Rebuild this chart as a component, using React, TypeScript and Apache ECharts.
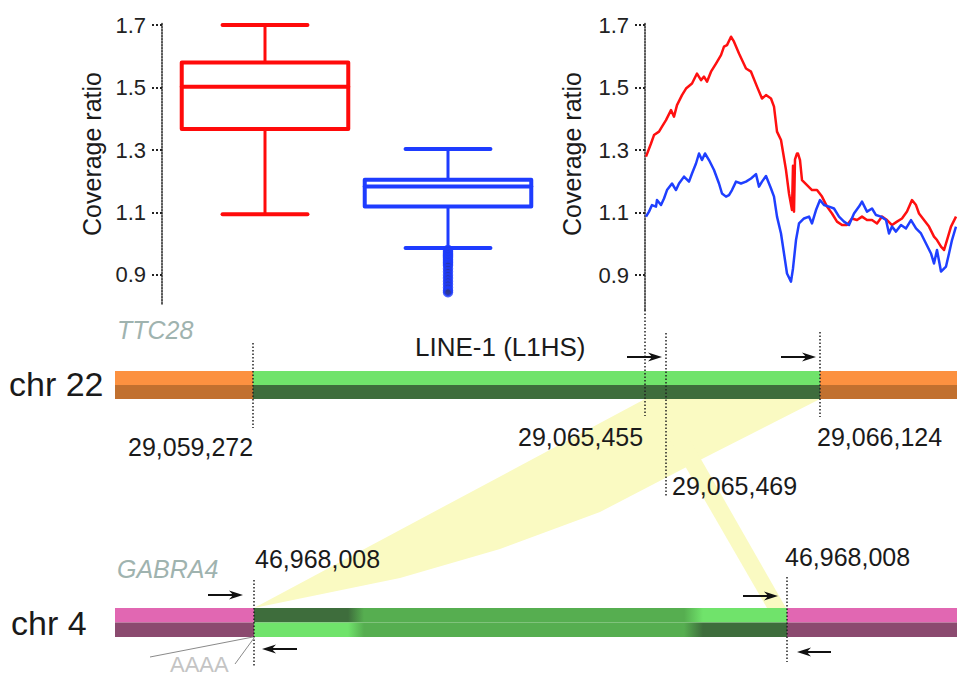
import React, { useEffect, useRef } from 'react';
import * as echarts from 'echarts';

// ---------- data ----------
const boxCategories = ['red sample', 'blue sample'];
// [lower whisker, Q1, median, Q3, upper whisker]
const boxStats = [
  [1.094, 1.367, 1.503, 1.58, 1.70],
  [0.986, 1.119, 1.183, 1.205, 1.303],
];
const boxColors = ['#ff0a0a', '#1e3cff'];
const blueOutliers = [0.98, 0.975, 0.97, 0.965, 0.96, 0.955, 0.95, 0.945, 0.94, 0.935, 0.93, 0.92, 0.91, 0.9, 0.89, 0.88, 0.87, 0.86, 0.85, 0.845];
const tickValues = [0.9, 1.1, 1.3, 1.5, 1.7];
const tickLabels = ['0.9', '1.1', '1.3', '1.5', '1.7'];

const redPos = [1, 6, 9, 14, 17, 21, 26, 29, 32, 37, 41, 47, 52, 56, 59, 62, 66, 71, 76, 79, 82, 86, 89, 94, 101, 106, 112, 117, 121, 126, 129, 132, 136, 141, 144, 147, 148, 149, 150, 152, 153, 155, 157, 162, 167, 172, 177, 182, 187, 192, 197, 202, 207, 212, 217, 222, 227, 232, 237, 242, 247, 252, 257, 262, 267, 271, 274, 279, 284, 289, 292, 296, 299, 302, 306, 311];
const redVal = [1.279, 1.321, 1.348, 1.359, 1.375, 1.396, 1.428, 1.407, 1.444, 1.476, 1.497, 1.513, 1.545, 1.524, 1.535, 1.519, 1.551, 1.577, 1.604, 1.631, 1.636, 1.663, 1.647, 1.609, 1.561, 1.551, 1.503, 1.465, 1.476, 1.465, 1.439, 1.359, 1.332, 1.236, 1.161, 1.108, 1.25, 1.103, 1.27, 1.289, 1.289, 1.268, 1.204, 1.188, 1.172, 1.172, 1.151, 1.119, 1.097, 1.071, 1.06, 1.06, 1.081, 1.076, 1.087, 1.076, 1.076, 1.065, 1.087, 1.076, 1.06, 1.071, 1.081, 1.103, 1.14, 1.124, 1.097, 1.076, 1.055, 1.023, 1.012, 0.991, 0.98, 1.012, 1.055, 1.087];

const bluePos = [1, 4, 7, 11, 12, 16, 19, 22, 27, 31, 34, 39, 44, 47, 51, 54, 57, 60, 64, 69, 74, 77, 81, 84, 87, 91, 96, 101, 106, 111, 114, 117, 121, 126, 129, 132, 136, 139, 142, 146, 148, 151, 154, 159, 164, 167, 171, 175, 179, 184, 189, 194, 199, 204, 209, 214, 217, 222, 227, 231, 236, 241, 244, 247, 251, 256, 261, 266, 271, 276, 281, 286, 289, 292, 296, 301, 304, 307, 311];
const blueVal = [1.087, 1.103, 1.124, 1.119, 1.14, 1.124, 1.145, 1.172, 1.193, 1.172, 1.193, 1.215, 1.199, 1.225, 1.257, 1.289, 1.268, 1.289, 1.268, 1.236, 1.193, 1.161, 1.151, 1.156, 1.172, 1.199, 1.193, 1.199, 1.209, 1.223, 1.183, 1.199, 1.217, 1.177, 1.151, 1.087, 1.033, 0.969, 0.905, 0.879, 0.921, 1.012, 1.065, 1.081, 1.087, 1.065, 1.108, 1.14, 1.124, 1.119, 1.113, 1.087, 1.071, 1.06, 1.097, 1.119, 1.135, 1.103, 1.113, 1.092, 1.087, 1.076, 1.033, 1.055, 1.039, 1.06, 1.049, 1.076, 1.049, 1.033, 1.001, 0.969, 0.937, 0.98, 0.911, 0.927, 0.969, 1.012, 1.055];

const chromNames = ['chr 22', 'chr 4'];
const geneNames = ['TTC28', 'GABRA4'];
const elementName = 'LINE-1 (L1HS)';
const chr22Coords = ['29,059,272', '29,065,455', '29,065,469', '29,066,124'];
const chr4Coords = ['46,968,008', '46,968,008'];
const polyA = 'AAAA';

const FONT = '"Liberation Sans", Arial, Helvetica, sans-serif';

function dotted(x: number, y1: number, y2: number) {
  return { type: 'line', shape: { x1: x, y1, x2: x, y2 }, style: { stroke: '#222', lineWidth: 1.5, lineDash: [1.5, 2] } };
}
function arrow(x1: number, x2: number, y: number) {
  const d = Math.sign(x2 - x1);
  const hl = 14, hh = 4.5;
  return [
    { type: 'line', shape: { x1, y1: y, x2: x2 - d * hl * 0.7, y2: y }, style: { stroke: '#111', lineWidth: 2 } },
    { type: 'polygon', shape: { points: [[x2, y], [x2 - d * hl, y - hh], [x2 - d * hl * 0.7, y], [x2 - d * hl, y + hh]] }, style: { fill: '#111' } },
  ];
}
function label(text: string, x: number, y: number, size: number, extra: any = {}) {
  return { type: 'text', x, y, style: { text, fill: '#1a1a1a', fontSize: size, fontFamily: FONT, align: 'left', verticalAlign: 'middle', ...extra } };
}

export default function App() {
  const ref = useRef<HTMLDivElement>(null);
  useEffect(() => {
    if (!ref.current) return;
    const chart = echarts.init(ref.current, undefined, { renderer: 'svg' });

    const yAxisBase = (gridIndex: number, min: number, max: number, offset: number) => ({
      gridIndex, type: 'value', min, max, offset,
      axisLine: { show: true, lineStyle: { color: '#222', type: 'dotted', width: 1.5 } },
      axisTick: { show: true, length: 12, customValues: tickValues, lineStyle: { color: '#222', type: 'dotted', width: 2 } },
      axisLabel: {
        customValues: tickValues, margin: 16, fontSize: 22, color: '#222', fontFamily: FONT,
        formatter: (v: number) => tickLabels[tickValues.findIndex((t) => Math.abs(t - v) < 1e-6)] ?? '',
      },
      splitLine: { show: false },
    });

    const lightGreen = '#70e36b', darkGreen = '#3e6d3c', midGreen = '#56ae50';
    const chr4Green = 787 - 254;
    const gs = (px: number) => (px - 254) / chr4Green;

    const graphics: any[] = [
      // axis names
      { type: 'text', x: 92, y: 154, rotation: Math.PI / 2, style: { text: 'Coverage ratio', fill: '#1a1a1a', fontSize: 25, fontFamily: FONT, align: 'center', verticalAlign: 'middle' } },
      { type: 'text', x: 572, y: 154, rotation: Math.PI / 2, style: { text: 'Coverage ratio', fill: '#1a1a1a', fontSize: 25, fontFamily: FONT, align: 'center', verticalAlign: 'middle' } },
      // yellow bands
      { type: 'polygon', shape: { points: [[254, 608], [645, 399], [820, 399], [700, 460], [600, 512], [500, 549], [400, 578]] }, style: { fill: '#fafac2' } },
      { type: 'polygon', shape: { points: [[670, 440], [690, 440], [786, 608], [767, 608]] }, style: { fill: '#fafac2' } },
      // chr22 bar
      { type: 'rect', shape: { x: 115, y: 371, width: 138, height: 14 }, style: { fill: '#fc9140' } },
      { type: 'rect', shape: { x: 115, y: 385, width: 138, height: 14 }, style: { fill: '#c1702f' } },
      { type: 'rect', shape: { x: 253, y: 371, width: 567, height: 14 }, style: { fill: lightGreen } },
      { type: 'rect', shape: { x: 253, y: 385, width: 567, height: 14 }, style: { fill: darkGreen } },
      { type: 'rect', shape: { x: 820, y: 371, width: 137, height: 14 }, style: { fill: '#fc9140' } },
      { type: 'rect', shape: { x: 820, y: 385, width: 137, height: 14 }, style: { fill: '#c1702f' } },
      // chr4 bar
      { type: 'rect', shape: { x: 115, y: 608, width: 139, height: 14.5 }, style: { fill: '#e167b2' } },
      { type: 'rect', shape: { x: 115, y: 622.5, width: 139, height: 14.5 }, style: { fill: '#8b4a6f' } },
      {
        type: 'rect', shape: { x: 254, y: 608, width: chr4Green, height: 14.5 },
        style: { fill: new echarts.graphic.LinearGradient(0, 0, 1, 0, [
          { offset: 0, color: darkGreen }, { offset: gs(348), color: darkGreen }, { offset: gs(364), color: midGreen },
          { offset: gs(684), color: midGreen }, { offset: gs(703), color: lightGreen }, { offset: 1, color: lightGreen },
        ]) },
      },
      {
        type: 'rect', shape: { x: 254, y: 622.5, width: chr4Green, height: 14.5 },
        style: { fill: new echarts.graphic.LinearGradient(0, 0, 1, 0, [
          { offset: 0, color: lightGreen }, { offset: gs(348), color: lightGreen }, { offset: gs(364), color: midGreen },
          { offset: gs(684), color: midGreen }, { offset: gs(703), color: darkGreen }, { offset: 1, color: darkGreen },
        ]) },
      },
      { type: 'rect', shape: { x: 787, y: 608, width: 170, height: 14.5 }, style: { fill: '#e167b2' } },
      { type: 'rect', shape: { x: 787, y: 622.5, width: 170, height: 14.5 }, style: { fill: '#8b4a6f' } },
      // dotted guides
      dotted(645, 310, 416),
      dotted(253, 343, 428),
      dotted(666, 333, 497),
      dotted(820, 332, 417),
      dotted(254, 580, 667),
      dotted(787, 577, 662),
      // arrows
      ...arrow(627, 662, 357),
      ...arrow(781, 816, 357),
      ...arrow(208, 243, 595),
      ...arrow(297, 262, 649),
      ...arrow(743, 778, 596),
      ...arrow(831, 797, 652),
      // polyA pointer lines
      { type: 'line', shape: { x1: 150, y1: 657, x2: 253, y2: 637 }, style: { stroke: '#8a8a8a', lineWidth: 1 } },
      { type: 'line', shape: { x1: 235, y1: 664, x2: 254, y2: 638 }, style: { stroke: '#8a8a8a', lineWidth: 1 } },
      // texts
      label(chromNames[0], 9, 384, 34),
      label(chromNames[1], 11, 623, 34),
      label(geneNames[0], 117, 330, 25, { fill: '#9fb3af', fontStyle: 'italic' }),
      label(geneNames[1], 117, 569, 25, { fill: '#9fb3af', fontStyle: 'italic' }),
      label(elementName, 415, 347, 26),
      label(chr22Coords[0], 128, 447, 25),
      label(chr22Coords[1], 518, 437, 25),
      label(chr22Coords[2], 672, 486, 25),
      label(chr22Coords[3], 817, 437, 25),
      label(chr4Coords[0], 255, 559, 25),
      label(chr4Coords[1], 785, 557, 25),
      label(polyA, 170, 664, 22, { fill: '#c4c4c4' }),
    ];

    chart.setOption({
      animation: false,
      textStyle: { fontFamily: FONT },
      grid: [
        { left: 173.5, top: 22, width: 366, height: 282, containLabel: false },
        { left: 645, top: 22, width: 312, height: 288, containLabel: false },
      ],
      xAxis: [
        { gridIndex: 0, type: 'category', data: boxCategories, show: false },
        { gridIndex: 1, type: 'value', min: 0, max: 312, show: false },
      ],
      yAxis: [
        yAxisBase(0, 0.807, 1.71, 11.5),
        yAxisBase(1, 0.788, 1.71, 0),
      ],
      series: [
        {
          type: 'custom',
          xAxisIndex: 0, yAxisIndex: 0,
          data: boxStats.map((s, i) => [i, ...s]),
          encode: { x: 0, y: [1, 2, 3, 4, 5] },
          renderItem: (params: any, api: any) => {
            const idx = api.value(0);
            const [lo, q1, med, q3, hi] = [1, 2, 3, 4, 5].map((d) => api.value(d));
            const cx = api.coord([idx, med])[0];
            const band = api.size([1, 0])[0];
            const hw = band * 0.455;
            const cw = band * 0.232;
            const y = (v: number) => api.coord([idx, v])[1];
            const color = boxColors[params.dataIndex];
            const st = { stroke: color, lineWidth: 4, fill: null, lineCap: 'round', lineJoin: 'round' };
            const ws = { stroke: color, lineWidth: 3 };
            return {
              type: 'group',
              children: [
                { type: 'line', shape: { x1: cx, y1: y(hi), x2: cx, y2: y(q3) }, style: ws },
                { type: 'line', shape: { x1: cx, y1: y(q1), x2: cx, y2: y(lo) }, style: ws },
                { type: 'line', shape: { x1: cx - cw, y1: y(hi), x2: cx + cw, y2: y(hi) }, style: st },
                { type: 'line', shape: { x1: cx - cw, y1: y(lo), x2: cx + cw, y2: y(lo) }, style: st },
                { type: 'rect', shape: { x: cx - hw, y: y(q3), width: 2 * hw, height: y(q1) - y(q3) }, style: st },
                { type: 'line', shape: { x1: cx - hw, y1: y(med), x2: cx + hw, y2: y(med) }, style: st },
              ],
            };
          },
          z: 3,
        },
        {
          type: 'scatter',
          xAxisIndex: 0, yAxisIndex: 0,
          data: blueOutliers.map((v) => [1, v]),
          symbolSize: 8,
          itemStyle: { color: '#2a3590', borderColor: '#1e3cff', borderWidth: 2.5 },
          z: 4,
        },
        {
          type: 'line',
          xAxisIndex: 1, yAxisIndex: 1,
          data: redPos.map((p, i) => [p, redVal[i]]),
          showSymbol: false,
          lineStyle: { color: '#ff1010', width: 2.5, join: 'round' },
          itemStyle: { color: '#ff1010' },
          z: 3,
        },
        {
          type: 'line',
          xAxisIndex: 1, yAxisIndex: 1,
          data: bluePos.map((p, i) => [p, blueVal[i]]),
          showSymbol: false,
          lineStyle: { color: '#1f3fff', width: 2.5, join: 'round' },
          itemStyle: { color: '#1f3fff' },
          z: 4,
        },
      ],
      graphic: graphics,
    });

    return () => chart.dispose();
  }, []);

  return <div ref={ref} style={{ position: 'fixed', left: 0, top: 0, width: 957, height: 677, background: '#fff' }} />;
}
